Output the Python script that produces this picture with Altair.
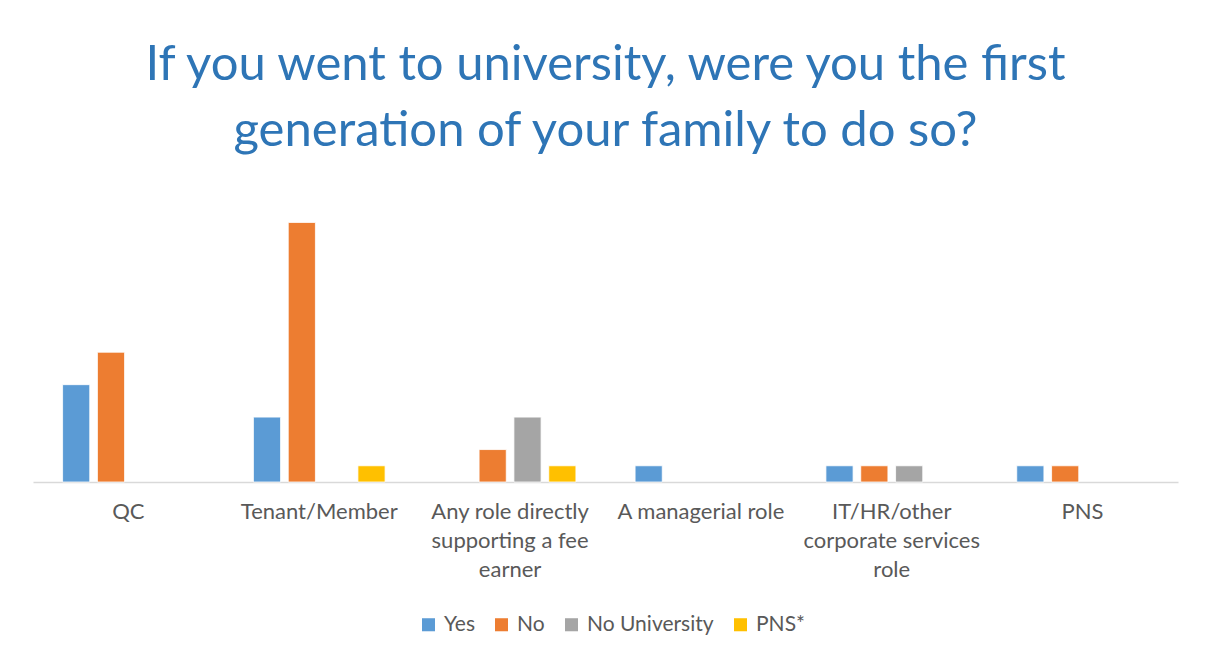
import altair as alt
import pandas as pd

categories = ["QC", "Tenant/Member", "Any role directly supporting a fee earner",
              "A managerial role", "IT/HR/other corporate services role", "PNS"]
series = ["Yes", "No", "No University", "PNS*"]
colors = ["#5B9BD5", "#ED7D31", "#A5A5A5", "#FFC000"]

yes_vals = [6, 4, 0, 1, 1, 1]
no_vals = [8, 16, 2, 0, 1, 1]
nouni_vals = [0, 0, 4, 0, 1, 0]
pns_vals = [0, 1, 1, 0, 0, 0]

label_lines = {
    "Any role directly supporting a fee earner": ["Any role directly", "supporting a fee", "earner"],
    "IT/HR/other corporate services role": ["IT/HR/other", "corporate services", "role"],
}

rows = []
for s, vals in zip(series, [yes_vals, no_vals, nouni_vals, pns_vals]):
    for c, v in zip(categories, vals):
        rows.append({"category": c, "series": s, "value": v})
df = pd.DataFrame(rows)

expr = "datum.label"
for k, v in label_lines.items():
    arr = "[" + ",".join("'" + x + "'" for x in v) + "]"
    expr = f"datum.label == '{k}' ? {arr} : ({expr})"

FONT = "Lato"

chart = alt.Chart(df).transform_filter("datum.value > 0").mark_bar(
    stroke="white", strokeWidth=0.8
).encode(
    x=alt.X("category:N", sort=categories, title=None,
            scale=alt.Scale(domain=categories, paddingInner=0.31, paddingOuter=0.155),
            axis=alt.Axis(labelAngle=0, ticks=False, domainColor="#D9D9D9", domainWidth=1.5,
                          labelFont=FONT, labelFontSize=22, labelColor="#595959",
                          labelPadding=19, labelLineHeight=29, labelBaseline="top",
                          labelExpr=expr, labelLimit=300)),
    xOffset=alt.XOffset("series:N", sort=series,
                        scale=alt.Scale(domain=series, paddingInner=0.22, paddingOuter=0)),
    y=alt.Y("value:Q", scale=alt.Scale(domain=[0, 18]), axis=None),
    color=alt.Color("series:N", sort=series,
                    scale=alt.Scale(domain=series, range=colors),
                    legend=alt.Legend(title=None, orient="none", direction="horizontal",
                                      legendX=385, legendY=424, symbolType="square",
                                      symbolSize=170, symbolStrokeWidth=0,
                                      labelFont=FONT, labelFontSize=21, labelColor="#595959",
                                      columnPadding=16, labelOffset=5)),
).properties(
    width=1145, height=292,
    title=alt.Title(["If you went to university, were you the first",
                     "generation of your family to do so?"],
                    font=FONT, fontSize=49, fontWeight="normal", color="#2E75B6",
                    anchor="middle", lineHeight=66, offset=34),
    autosize=alt.AutoSizeParams(type="none"),
    padding={"left": 25, "top": 182, "right": 19, "bottom": 169},
).configure(background="white").configure_view(stroke=None)

chart.save("out.html", embed_options={"renderer": "svg", "actions": False})
